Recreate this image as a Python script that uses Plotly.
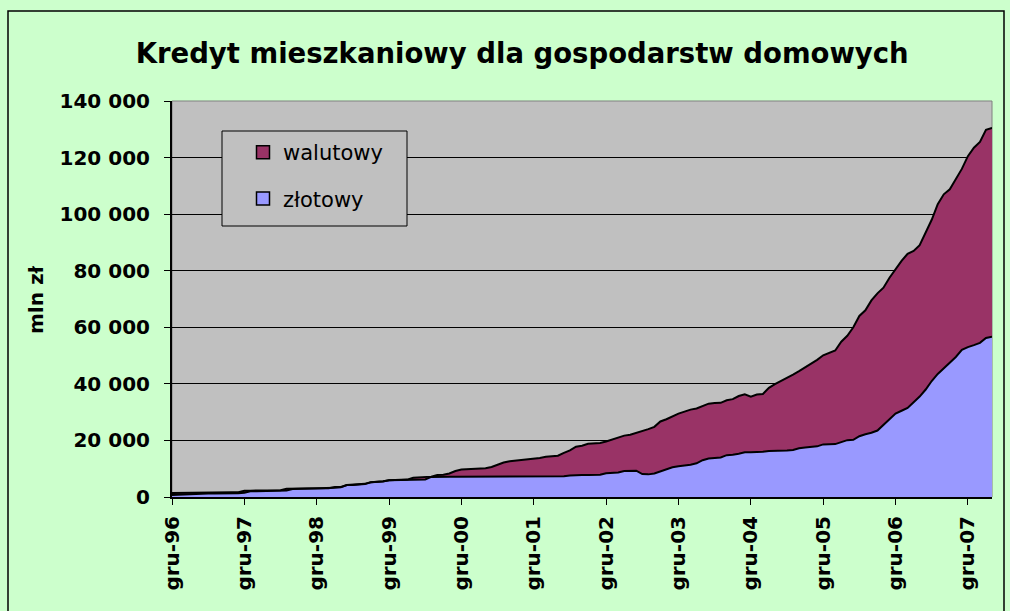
import plotly.graph_objects as go

# ---- data (mln zł), monthly from gru-96 to kwi-08 ----
miesiace_pl = ["sty", "lut", "mar", "kwi", "maj", "cze", "lip", "sie", "wrz", "paź", "lis", "gru"]
months = ["gru-96"]
for yr in range(1997, 2009):
    for m in miesiace_pl:
        months.append(f"{m}-{yr % 100:02d}")
months = months[:137]

ogolem = [
    1400, 1400, 1450, 1500, 1500, 1550, 1550, 1600, 1600, 1650, 1650, 1700,
    2200, 2250, 2250, 2300, 2300, 2350, 2400, 2900, 2950, 2950, 3000, 3000,
    3050, 3100, 3100, 3500, 3550, 4250, 4300, 4400, 4650, 5250, 5350, 5550,
    5950, 6000, 6050, 6150, 6800, 6850, 6900, 7200, 7800, 7900, 8300, 9200,
    9700, 9800, 9900, 10000, 10200, 10600, 11500, 12200, 12600, 12800, 13200, 13400,
    13600, 13800, 14200, 14400, 14600, 15600, 16500, 17800, 18100, 18800, 19000, 19100,
    19600, 20300, 21000, 21700, 22000, 22600, 23300, 24000, 24800, 26700, 27500, 28600,
    29500, 30200, 30900, 31300, 32200, 33000, 33200, 33300, 34200, 34600, 35700, 36300,
    35500, 36200, 36400, 38600, 39900, 41000, 42000, 43300, 44500, 45800, 47300, 48500,
    50100, 51000, 51800, 54900, 57000, 60000, 64000, 66000, 69500, 72000, 74000, 77500,
    80500, 83500, 86000, 87000, 89000, 93500, 98000, 103500, 107000, 108800, 112500, 116000,
    120500, 123500, 125500, 129800, 130500,
]

zlotowy = [
    700, 800, 900, 1100, 1150, 1150, 1200, 1200, 1200, 1250, 1250, 1300,
    1500, 2000, 2000, 2050, 2050, 2100, 2100, 2300, 2800, 2850, 2850, 2900,
    2900, 2950, 3000, 3300, 3400, 4200, 4250, 4300, 4600, 5200, 5250, 5500,
    5900, 5950, 6000, 6050, 6050, 6100, 6200, 7100, 7200, 7200, 7200, 7200,
    7200, 7200, 7200, 7200, 7200, 7200, 7200, 7200, 7200, 7200, 7200, 7200,
    7250, 7250, 7250, 7250, 7250, 7300, 7600, 7800, 7800, 7800, 7850, 7900,
    8400, 8600, 8700, 9200, 9300, 9300, 8100, 8000, 8300, 9000, 9800, 10500,
    10900, 11100, 11400, 11900, 13000, 13600, 13700, 14000, 14800, 14900, 15300, 15800,
    15800, 15800, 16000, 16300, 16300, 16400, 16400, 16600, 17200, 17500, 17800, 17900,
    18600, 18700, 18700, 19400, 20100, 20200, 21500, 22200, 22700, 23500, 25500, 27500,
    29500, 30500, 31500, 33500, 35500, 38000, 41000, 43500, 45500, 47500, 49500, 52000,
    53000, 53700, 54500, 56200, 56700,
]

x_ticks = ["gru-96", "gru-97", "gru-98", "gru-99", "gru-00", "gru-01",
           "gru-02", "gru-03", "gru-04", "gru-05", "gru-06", "gru-07"]
y_tickvals = [0, 20000, 40000, 60000, 80000, 100000, 120000, 140000]
y_ticktext = ["0", "20 000", "40 000", "60 000", "80 000", "100 000", "120 000", "140 000"]

series_names = ["walutowy", "złotowy"]
series_colors = ["#993366", "#9999FF"]

FONT = "DejaVu Sans, Verdana, sans-serif"

fig = go.Figure()
fig.add_trace(go.Scatter(
    x=months, y=zlotowy, mode="lines", fill="tozeroy",
    fillcolor=series_colors[1], line=dict(color="black", width=2),
    showlegend=False, hoverinfo="skip"))
fig.add_trace(go.Scatter(
    x=months, y=ogolem, mode="lines", fill="tonexty",
    fillcolor=series_colors[0], line=dict(color="black", width=2),
    showlegend=False, hoverinfo="skip"))

# legend entries
for i, (nm, col) in enumerate(zip(series_names, series_colors)):
    fig.add_trace(go.Scatter(
        x=[None], y=[None], mode="markers", name=nm, legendgroup=f"g{i}",
        marker=dict(symbol="square", size=13, color=col,
                    line=dict(color="black", width=1.5))))

L, R, T, B = 172, 18, 101, 114
W, H = 1010, 611
pw, ph = W - L - R, H - T - B

def px(xp):
    return (xp - L) / pw

def py(yp):
    return (H - B - yp) / ph

fig.update_layout(
    width=W, height=H,
    margin=dict(l=L, r=R, t=T, b=B, pad=0),
    paper_bgcolor="#CCFFCC", plot_bgcolor="#C0C0C0",
    font=dict(family=FONT, color="black"),
    title=dict(text="<b>Kredyt mieszkaniowy dla gospodarstw domowych</b>",
               x=0.517, xanchor="center", xref="container",
               y=1 - 53 / H, yanchor="middle", yref="container",
               font=dict(size=27.5, family=FONT, color="black")),
    showlegend=True,
    legend=dict(x=px(243), y=py(132), xanchor="left", yanchor="top",
                bgcolor="rgba(0,0,0,0)", borderwidth=0,
                font=dict(size=21, family=FONT, color="black"),
                tracegroupgap=16, traceorder="grouped"),
    xaxis=dict(type="category", range=[0, len(months) - 1],
               tickmode="array", tickvals=x_ticks, ticktext=x_ticks,
               tickangle=-90, ticks="outside", ticklen=6, tickcolor="black",
               ticklabelstandoff=3,
               tickfont=dict(size=20, family=FONT, color="black", weight="bold"),
               showgrid=False, showline=True, linecolor="black", linewidth=2,
               zeroline=False, fixedrange=True),
    yaxis=dict(range=[0, 140000], tickmode="array", tickvals=y_tickvals,
               ticktext=y_ticktext, ticks="outside", ticklen=6, tickcolor="black",
               ticklabelstandoff=10,
               tickfont=dict(size=20, family=FONT, color="black", weight="bold"),
               showgrid=True, gridcolor="black", gridwidth=1,
               showline=True, linecolor="black", linewidth=2,
               zeroline=False, fixedrange=True),
    annotations=[dict(text="<b>mln zł</b>", x=px(36), y=py(300),
                      xref="paper", yref="paper", showarrow=False,
                      xanchor="center", yanchor="middle",
                      textangle=-90, font=dict(size=20, family=FONT, color="black"))],
    shapes=[
        # plot-area border (top/right gray)
        dict(type="rect", xref="paper", yref="paper", x0=0, x1=1, y0=0, y1=1,
             line=dict(color="#808080", width=1), layer="below"),
        # legend box
        dict(type="rect", xref="paper", yref="paper",
             x0=px(222), x1=px(407), y0=py(226), y1=py(131),
             fillcolor="#C0C0C0", line=dict(color="black", width=1), layer="above"),
        # outer chart frame
        dict(type="rect", xref="paper", yref="paper",
             x0=px(8), x1=px(1004), y0=py(630), y1=py(11),
             line=dict(color="black", width=1.5), layer="above"),
    ],
)

fig.write_html(
    "out.html",
    config={"displayModeBar": False},
    post_script="document.body.style.margin='0';document.body.style.padding='0';"
                "document.body.style.background='#CCFFCC';",
)
